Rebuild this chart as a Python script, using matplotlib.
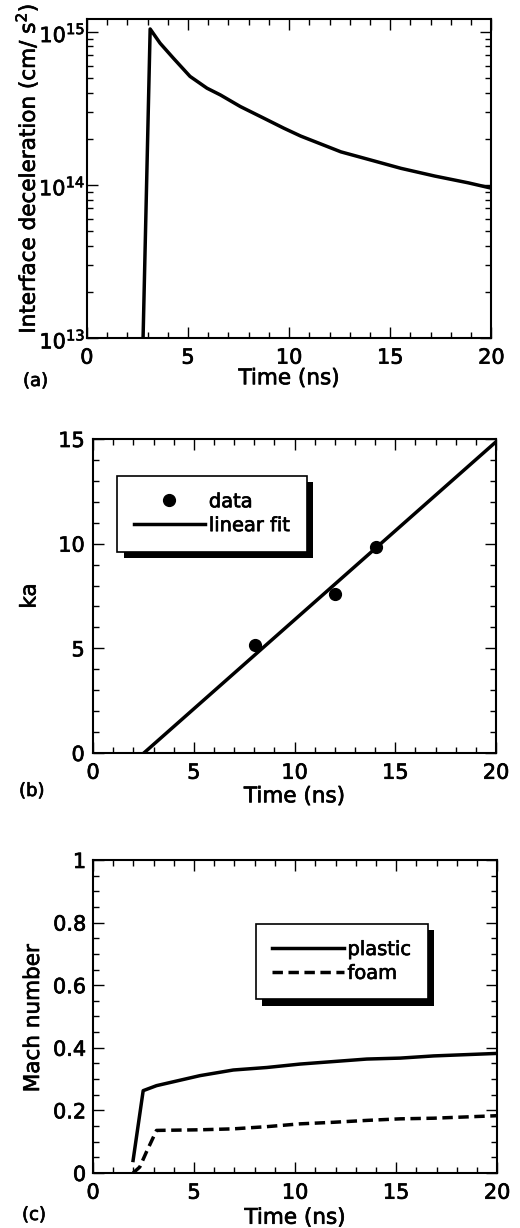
import matplotlib as mpl
import matplotlib.pyplot as plt
import matplotlib.patheffects as pe
from matplotlib.ticker import MultipleLocator, LogLocator, NullFormatter

# (a) interface deceleration vs time
time_a = [2.78, 3.13, 3.62, 4.28, 5.1, 5.94, 6.6, 7.59, 8.75, 9.74, 10.57,
          12.56, 14.04, 15.53, 17.2, 18.85, 20.0]
decel = [1e13, 1.04e15, 8.4e14, 6.7e14, 5.1e14, 4.27e14, 3.86e14, 3.24e14, 2.72e14,
         2.34e14, 2.08e14, 1.64e14, 1.45e14, 1.28e14, 1.14e14, 1.03e14, 9.5e13]

# (b) ka measurements and linear fit
data_time = [8.04, 12.01, 14.03]
data_ka = [5.17, 7.58, 9.83]
fit_time = [2.52, 20.0]
fit_ka = [0.0, 14.87]

# (c) Mach number
plastic_time = [1.98, 2.48, 3.14, 5.29, 6.94, 8.6, 10.25, 11.9, 13.55, 15.2, 16.86, 20.0]
plastic = [0.04, 0.263, 0.279, 0.311, 0.329, 0.337, 0.348, 0.356, 0.364, 0.367, 0.374, 0.382]
foam_time = [1.98, 2.31, 2.64, 3.14, 5.29, 6.94, 8.6, 10.25, 11.9, 13.55, 15.2, 16.86, 20.0]
foam = [0.0, 0.019, 0.067, 0.136, 0.138, 0.141, 0.148, 0.157, 0.162, 0.168, 0.173, 0.175, 0.183]

mpl.rcParams["font.family"] = "DejaVu Sans"
mpl.rcParams["font.size"] = 15
mpl.rcParams["axes.linewidth"] = 1.5
mpl.rcParams["xtick.direction"] = "in"
mpl.rcParams["ytick.direction"] = "in"
mpl.rcParams["xtick.top"] = True
mpl.rcParams["ytick.right"] = True
mpl.rcParams["xtick.major.size"] = 8
mpl.rcParams["ytick.major.size"] = 8
mpl.rcParams["xtick.minor.size"] = 4.5
mpl.rcParams["ytick.minor.size"] = 4.5
mpl.rcParams["xtick.major.width"] = 1.0
mpl.rcParams["ytick.major.width"] = 1.0
mpl.rcParams["xtick.minor.width"] = 1.0
mpl.rcParams["ytick.minor.width"] = 1.0
mpl.rcParams["xtick.labelsize"] = 15
mpl.rcParams["ytick.labelsize"] = 15
mpl.rcParams["mathtext.default"] = "regular"

LW = 2.5
LABEL_SIZE = 15.5

fig = plt.figure(figsize=(5.2, 12.28), dpi=100)
ax_a = fig.add_axes([0.167, 0.7248, 0.778, 0.2598])
ax_b = fig.add_axes([0.179, 0.3868, 0.775, 0.2557])
ax_c = fig.add_axes([0.179, 0.0448, 0.777, 0.2549])


def time_axis(ax, label_y):
    ax.set_xlim(0, 20)
    ax.xaxis.set_major_locator(MultipleLocator(5))
    ax.xaxis.set_minor_locator(MultipleLocator(1))
    ax.tick_params(axis="x", which="major", pad=7)
    ax.set_xlabel("Time (ns)", fontsize=LABEL_SIZE)
    ax.xaxis.set_label_coords(0.5, label_y)


def boxed_legend(ax, anchor):
    leg = ax.legend(loc="upper left", bbox_to_anchor=anchor, borderaxespad=0,
                    fontsize=14, handlelength=3.66, handletextpad=0.2,
                    borderpad=0.85, labelspacing=0.25, numpoints=1,
                    fancybox=False, framealpha=1, edgecolor="black")
    frame = leg.get_frame()
    frame.set_linewidth(1.2)
    frame.set_path_effects([
        pe.SimplePatchShadow(offset=(4.5, -4.5), shadow_rgbFace="black", alpha=1.0),
        pe.Normal(),
    ])
    return leg


# (a)
ax_a.plot(time_a, decel, color="black", lw=LW)
ax_a.set_yscale("log")
ax_a.set_ylim(1e13, 1.21e15)
ax_a.yaxis.set_major_locator(LogLocator(base=10))
ax_a.yaxis.set_minor_locator(LogLocator(base=10, subs=range(2, 10)))
ax_a.yaxis.set_minor_formatter(NullFormatter())
ax_a.tick_params(axis="y", which="major", pad=1)
ax_a.set_ylabel("Interface deceleration (cm/ s$^2$)", fontsize=LABEL_SIZE)
ax_a.yaxis.set_label_coords(-0.114, 0.53)
time_axis(ax_a, -0.095)

# (b)
ax_b.plot(data_time, data_ka, "o", color="black", ms=8.5, label="data")
ax_b.plot(fit_time, fit_ka, color="black", lw=LW, label="linear fit")
ax_b.set_ylim(0, 15)
ax_b.yaxis.set_major_locator(MultipleLocator(5))
ax_b.yaxis.set_minor_locator(MultipleLocator(1))
ax_b.tick_params(axis="y", which="major", pad=6)
ax_b.set_ylabel("ka", fontsize=LABEL_SIZE)
ax_b.yaxis.set_label_coords(-0.133, 0.5)
time_axis(ax_b, -0.106)
boxed_legend(ax_b, (0.06, 0.883))

# (c)
ax_c.plot(plastic_time, plastic, color="black", lw=LW, label="plastic")
ax_c.plot(foam_time, foam, color="black", lw=LW, ls=(0, (3, 1.6)), label="foam")
ax_c.set_ylim(0, 1)
ax_c.yaxis.set_major_locator(MultipleLocator(0.2))
ax_c.yaxis.set_minor_locator(MultipleLocator(0.05))
ax_c.yaxis.set_major_formatter(mpl.ticker.FuncFormatter(lambda v, p: f"{v:g}"))
ax_c.tick_params(axis="y", which="major", pad=5)
ax_c.set_ylabel("Mach number", fontsize=LABEL_SIZE)
ax_c.yaxis.set_label_coords(-0.124, 0.495)
time_axis(ax_c, -0.111)
boxed_legend(ax_c, (0.403, 0.797))

fig.text(23 / 520, 1 - 381 / 1228, "(a)", fontsize=13, va="center", ha="left")
fig.text(19 / 520, 1 - 791 / 1228, "(b)", fontsize=13, va="center", ha="left")
fig.text(22 / 520, 1 - 1215 / 1228, "(c)", fontsize=13, va="center", ha="left")

# heavier lettering, like the printed figure
for t in fig.findobj(mpl.text.Text):
    t.set_path_effects([pe.withStroke(linewidth=0.5, foreground="black")])

fig.savefig("out.png", dpi=100)
